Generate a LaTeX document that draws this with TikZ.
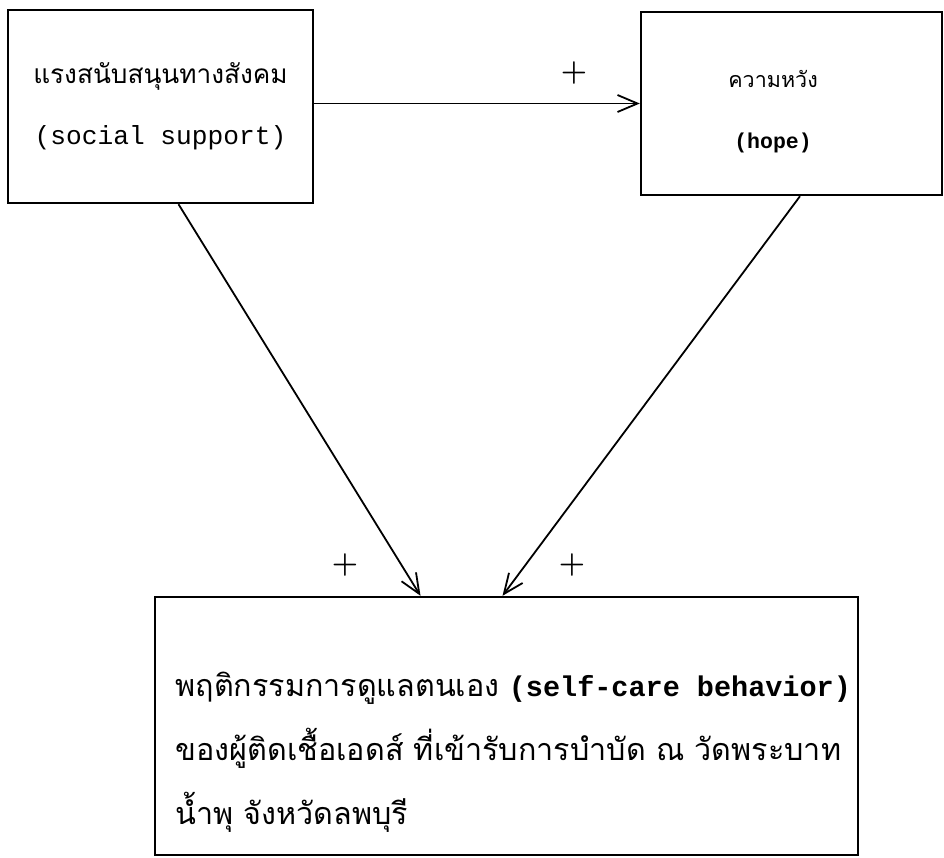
\documentclass[tikz,border=0pt]{standalone}
\usepackage{fontspec}
\usepackage{tikz}
\usetikzlibrary{arrows.meta}
\setmonofont{Liberation Mono}
\newfontfamily\thaifont[Script=Thai]{Loma}
\definecolor{ink}{HTML}{000000}
\definecolor{background}{HTML}{ffffff}
\tikzset{%
    >={Straight Barb[length=20pt,width=17pt]},
    box/.style={draw=ink, line width=2.4pt, inner sep=0pt},
    link/.style={draw=ink, line width=1.8pt, ->},
    boxtext/.style={font=\fontsize{26.2}{61}\selectfont, align=center},
    plus/.style={font=\fontsize{30}{30}\selectfont\bfseries}
}

\begin{document}
\begin{tikzpicture}[x=1pt,y=-1pt]
        \useasboundingbox[fill=background] (0,0) rectangle (944,857);

        \node[box, minimum width=305pt, minimum height=193pt, boxtext] (support) at (160.5,106.5)
            {{\thaifont แรงสนับสนุนทางสังคม}\\\ttfamily (social support)};
        \node[box, minimum width=301pt, minimum height=183pt] (hope) at (791.5,103.5) {};
        \node[boxtext, font=\fontsize{21.5}{61}\selectfont] (hopetext) at (773,112)
            {{\thaifont ความหวัง}\\\ttfamily\bfseries (hope)};
        \node[box, minimum width=703pt, minimum height=258pt] (care) at (506.5,726) {};
        \node[font=\fontsize{30.5}{64}\selectfont, align=left, anchor=west] (caretext) at (172,752)
            {{\thaifont พฤติกรรมการดูแลตนเอง} {\fontsize{28.5}{64}\selectfont\ttfamily\bfseries (self-care behavior)}\\
             {\thaifont ของผู้ติดเชื้อเอดส์ ที่เข้ารับการบำบัด ณ วัดพระบาท}\\
             {\thaifont น้ำพุ จังหวัดลพบุรี}};

        \coordinate (supportout) at ([xshift=18pt]support.south);
        \coordinate (hopeout) at ([xshift=8.5pt]hope.south);
        \coordinate (carein1) at ([xshift=-86pt]care.north);
        \coordinate (carein2) at ([xshift=-4pt]care.north);

        \draw[link] (support.east |- hope.west) -- (hope.west);
        \draw[link] (supportout) -- (carein1);
        \draw[link] (hopeout) -- (carein2);

        \node[plus] (plusAB) at (574,73) {+};
        \node[plus] (plusAC) at (345,565) {+};
        \node[plus] (plusBC) at (572,565) {+};
    \end{tikzpicture}
\end{document}
